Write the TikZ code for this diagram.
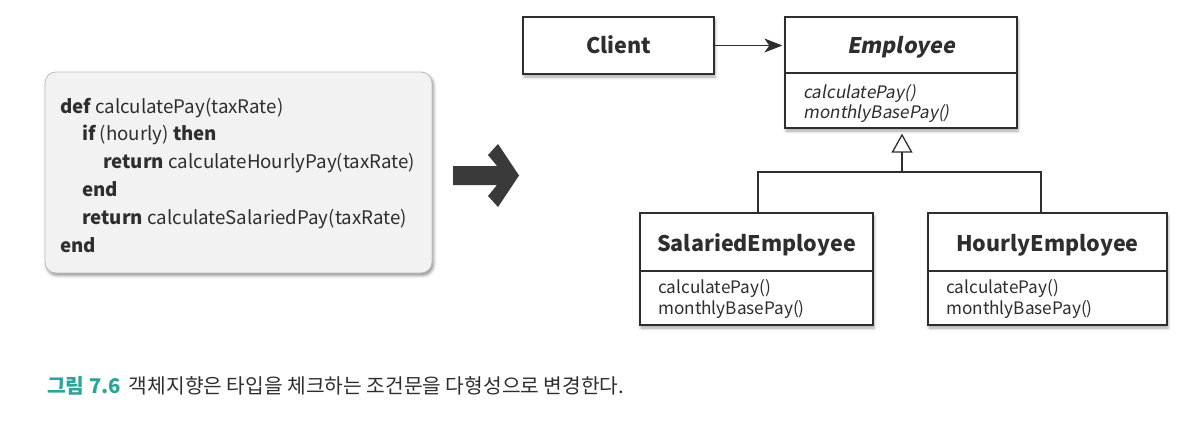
\documentclass[tikz,border=0pt]{standalone}
\usepackage{fontspec}
\setmainfont{Noto Sans CJK KR}
\newfontfamily\slantfont{Noto Sans CJK KR}[FakeSlant=0.18]
\usetikzlibrary{arrows.meta,shadows.blur}
\definecolor{ink}{HTML}{2E2E2E}
\definecolor{capteal}{HTML}{2BA597}
\definecolor{codefill}{HTML}{F2F2F2}
\definecolor{codeedge}{HTML}{BDBDBD}
\definecolor{bigarrow}{HTML}{3A3A3A}
\begin{document}
\begin{tikzpicture}[x=1pt,y=-1pt,
  umlbox/.style={draw=ink, line width=1.3pt, fill=white, rectangle, inner sep=0pt,
    blur shadow={shadow xshift=1pt, shadow yshift=-3pt, shadow blur radius=3pt, shadow opacity=35}},
  titletext/.style={font=\fontsize{21.5}{25}\selectfont\bfseries, text=ink, inner sep=0pt, anchor=base},
  methtext/.style={font=\fontsize{17.2}{21}\selectfont, text=ink, anchor=base west, inner sep=0pt},
  codetext/.style={font=\fontsize{18.7}{22}\selectfont, text=ink, anchor=base west, inner sep=0pt},
  link/.style={draw=ink, line width=1.3pt},
]
\useasboundingbox (0,0) rectangle (1190,420);

% code box
\node[draw=codeedge, line width=0.8pt, fill=codefill, rounded corners=11pt,
  minimum width=387, minimum height=201, inner sep=0pt,
  blur shadow={shadow xshift=1.5pt, shadow yshift=-2.5pt, shadow blur radius=3pt, shadow opacity=45}]
  (codebox) at (238.5,172.5) {};
\node[codetext] (c1) at (60,113)   {\bfseries def\mdseries{} calculatePay(taxRate)};
\node[codetext] (c2) at (82,140.8) {\bfseries if\mdseries{} (hourly) \bfseries then};
\node[codetext] (c3) at (103,168.6) {\bfseries return\mdseries{} calculateHourlyPay(taxRate)};
\node[codetext] (c4) at (82,196.4) {\bfseries end};
\node[codetext] (c5) at (82,224.2) {\bfseries return\mdseries{} calculateSalariedPay(taxRate)};
\node[codetext] (c6) at (60,252)   {\bfseries end};

% big arrow
\fill[bigarrow] (453,166) -- (497,166) -- (488,155) -- (498,144) -- (519,175.5)
  -- (498,207) -- (488,196) -- (497,185) -- (453,185) -- cycle;

% Client
\node[umlbox, minimum width=191, minimum height=57] (client) at (618.5,45.5) {};
\node[titletext] (clientt) at (618.5,54) {Client};

% Employee
\node[umlbox, minimum width=232, minimum height=111] (emp) at (901,72.5) {};
\draw[link] (785,73) -- (1017,73);
\node[titletext] (empt) at (901,53) {\slantfont\bfseries Employee};
\node[methtext] (empm1) at (803,98) {\slantfont calculatePay()};
\node[methtext] (empm2) at (803,118) {\slantfont monthlyBasePay()};

% SalariedEmployee
\node[umlbox, minimum width=233, minimum height=112] (sal) at (756.5,269) {};
\draw[link] (640,271) -- (873,271);
\node[titletext] (salt) at (756.5,251) {SalariedEmployee};
\node[methtext] (salm1) at (658,293) {calculatePay()};
\node[methtext] (salm2) at (658,314) {monthlyBasePay()};

% HourlyEmployee
\node[umlbox, minimum width=239, minimum height=112] (hour) at (1047.5,269) {};
\draw[link] (928,271) -- (1167,271);
\node[titletext] (hourt) at (1047.5,251) {HourlyEmployee};
\node[methtext] (hourm1) at (946,293) {calculatePay()};
\node[methtext] (hourm2) at (946,314) {monthlyBasePay()};

% connectors
\draw[link, line width=1.2pt, -{Stealth[length=18pt,width=14pt,inset=5pt]}, shorten >=2pt] (client.east) -- (emp.west |- client.east);
\coordinate (junc) at (902,172);
\draw[link] ([xshift=1.5pt]sal.north) |- (junc) -| ([xshift=-6.5pt]hour.north);
\draw[link, -{Triangle[open,length=19pt,width=21pt,line width=1.3pt]}, shorten >=5pt] (junc) -- (junc |- emp.south);

% caption
\node[anchor=base west, inner sep=0pt, font=\fontsize{20.3}{24}\selectfont, text=ink] (cap) at (47,393)
  {{\color{capteal}\bfseries 그림 7.6}\, 객체지향은 타입을 체크하는 조건문을 다형성으로 변경한다.};
\end{tikzpicture}
\end{document}
